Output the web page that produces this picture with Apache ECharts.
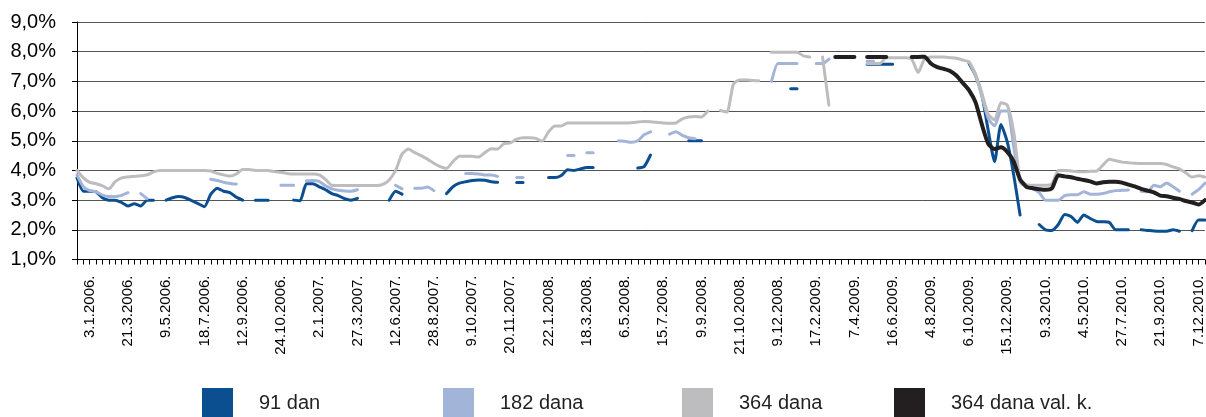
<!DOCTYPE html>
<html>
<head>
<meta charset="utf-8">
<script src="https://cdn.jsdelivr.net/npm/echarts@6/dist/echarts.min.js"></script>
<style>
  html, body { margin: 0; padding: 0; background: #fff; }
  #chart { width: 1206px; height: 417px; }
</style>
</head>
<body>
<div id="chart"></div>
<script>
// datumi aukcija koji se ispisuju na osi (svaka 6. aukcija, od indeksa 2)
const tickLabels = ['3.1.2006.', '21.3.2006.', '9.5.2006.', '18.7.2006.', '12.9.2006.', '24.10.2006.',
  '2.1.2007.', '27.3.2007.', '12.6.2007.', '28.8.2007.', '9.10.2007.', '20.11.2007.',
  '22.1.2008.', '18.3.2008.', '6.5.2008.', '15.7.2008.', '9.9.2008.', '21.10.2008.',
  '9.12.2008.', '17.2.2009.', '7.4.2009.', '16.6.2009.', '4.8.2009.', '6.10.2009.',
  '15.12.2009.', '9.3.2010.', '4.5.2010.', '27.7.2010.', '21.9.2010.', '7.12.2010.'];
const auctionCount = 178;

const seriesNames = ['91 dan', '182 dana', '364 dana', '364 dana val. k.'];

const d91 = [
  3.75, 3.3, 3.3, 3.28, 3.08, 3.0, 3.0, 2.92, 2.8, 2.88,
  2.8, 3.0, 3.0, null, 3.0, 3.08, 3.12, 3.08, 2.98, 2.88,
  2.78, 3.2, 3.4, 3.3, 3.25, 3.1, 3.0, null, 3.0, 3.0,
  3.0, null, null, null, 3.0, 2.98, 3.55, 3.55, 3.45, 3.35,
  3.22, 3.15, 3.05, 3.0, 3.06, null, null, null, null, 3.0,
  3.3, 3.2, null, null, null, null, null, null, 3.22, 3.45,
  3.57, 3.62, 3.66, 3.68, 3.67, 3.62, 3.6, null, null, 3.59,
  3.59, null, null, null, 3.76, 3.76, 3.83, 4.02, 4.0, 4.05,
  4.1, 4.1, null, null, null, null, null, null, 4.08, 4.13,
  4.52, null, null, null, null, null, 5.0, 5.0, 5.0, null,
  null, null, null, null, null, null, null, null, null, null,
  null, null, 6.75, 6.75, null, null, null, null, null, null,
  null, null, null, null, 7.58, 7.58, 7.58, 7.58, 7.58, null,
  null, null, null, null, null, null, null, null, null, null,
  7.6, 7.2, 6.55, 5.35, 4.3, 5.55, 4.95, 3.85, 2.5, null,
  null, 2.18, 2.0, 1.98, 2.18, 2.52, 2.45, 2.25, 2.5, 2.38,
  2.28, 2.27, 2.25, 2.0, 2.0, 2.0, null, 2.0, 1.98, 1.96,
  1.95, 1.95, 2.0, 1.95, null, 1.97, 2.33, 2.33
];

const d182 = [
  3.85, 3.45, 3.32, 3.28, 3.17, 3.12, 3.12, 3.16, 3.25, null,
  3.22, 3.05, null, null, null, null, null, null, null, null,
  null, 3.7, 3.66, 3.6, 3.56, 3.54, null, null, null, null,
  null, null, 3.5, 3.5, 3.5, null, 3.65, 3.66, 3.63, 3.48,
  3.38, 3.33, 3.31, 3.3, 3.35, null, null, null, null, null,
  3.5, 3.38, null, 3.4, 3.4, 3.44, 3.32, null, null, null,
  null, 3.9, 3.9, 3.88, 3.85, 3.85, 3.8, null, null, 3.76,
  3.76, null, null, null, null, null, null, 4.5, 4.5, null,
  4.6, 4.6, null, null, null, 5.0, 4.98, 4.95, 5.0, 5.2,
  5.3, null, null, 5.22, 5.3, 5.18, 5.1, 5.07, null, null,
  null, null, null, null, null, null, null, null, null, 7.0,
  7.6, 7.6, 7.6, 7.6, null, null, 7.6, 7.6, 7.75, null,
  null, null, null, null, 7.68, 7.68, null, null, null, null,
  null, null, null, null, null, null, null, null, null, null,
  7.65, 7.25, 6.5, 5.75, 5.5, 6.0, 6.0, 4.8, 3.6, 3.45,
  3.38, 3.25, 3.0, 3.0, 3.0, 3.15, 3.18, 3.18, 3.28, 3.2,
  3.2, 3.22, 3.28, 3.32, 3.33, 3.34, null, 3.3, 3.28, 3.5,
  3.45, 3.58, 3.45, 3.3, null, 3.2, 3.35, 3.57
];

const d364 = [
  4.0, 3.75, 3.6, 3.55, 3.48, 3.38, 3.62, 3.75, 3.78, 3.8,
  3.82, 3.85, 3.95, 4.0, 4.0, 4.0, 4.0, 4.0, 4.0, 4.0,
  4.0, 3.98, 3.9, 3.85, 3.81, 3.88, 4.03, 4.03, 4.0, 4.0,
  4.0, 3.96, 3.94, 3.9, 3.88, 3.88, 3.88, 3.88, 3.85, 3.7,
  3.5, 3.49, 3.49, 3.49, 3.49, 3.49, 3.49, 3.49, 3.53, 3.68,
  4.0, 4.55, 4.72, 4.6, 4.5, 4.38, 4.24, 4.13, 4.07, 4.3,
  4.48, 4.48, 4.48, 4.45, 4.6, 4.73, 4.72, 4.9, 4.93, 5.05,
  5.1, 5.1, 5.08, 4.98, 5.3, 5.5, 5.5, 5.6, 5.6, 5.6,
  5.6, 5.6, 5.6, 5.6, 5.6, 5.6, 5.6, 5.61, 5.63, 5.65,
  5.64, 5.62, 5.6, 5.59, 5.6, 5.74, 5.8, 5.82, 5.8, 6.0,
  null, 6.02, 5.97, 6.9, 7.05, 7.05, 7.03, 7.02, null, 7.98,
  7.98, 7.98, 7.98, 7.98, 7.86, 7.82, null, 7.82, 6.2, null,
  null, null, null, null, 7.6, 7.6, 7.6, 7.8, 7.8, 7.8,
  7.8, 7.75, 7.3, 7.75, 7.82, 7.82, 7.82, 7.8, 7.78, 7.72,
  7.65, 7.2, 6.6, 5.9, 5.7, 6.28, 6.2, 5.3, 3.7, 3.52,
  3.5, 3.5, 3.5, 3.55, 4.0, 4.0, 3.98, 3.96, 3.96, 3.97,
  3.98, 4.18, 4.38, 4.33, 4.28, 4.26, 4.24, 4.23, 4.23, 4.23,
  4.23, 4.2, 4.12, 4.05, 3.92, 3.78, 3.82, 3.78
];

const d364vk = [
  null, null, null, null, null, null, null, null, null, null,
  null, null, null, null, null, null, null, null, null, null,
  null, null, null, null, null, null, null, null, null, null,
  null, null, null, null, null, null, null, null, null, null,
  null, null, null, null, null, null, null, null, null, null,
  null, null, null, null, null, null, null, null, null, null,
  null, null, null, null, null, null, null, null, null, null,
  null, null, null, null, null, null, null, null, null, null,
  null, null, null, null, null, null, null, null, null, null,
  null, null, null, null, null, null, null, null, null, null,
  null, null, null, null, null, null, null, null, null, null,
  null, null, null, null, null, null, null, null, null, 7.82,
  7.82, 7.82, 7.82, null, 7.82, 7.82, 7.82, 7.82, null, null,
  null, 7.82, 7.82, 7.83, 7.6, 7.48, 7.42, 7.35, 7.2, 6.95,
  6.7, 6.3, 5.55, 4.9, 4.72, 4.78, 4.62, 4.3, 3.7, 3.45,
  3.4, 3.37, 3.35, 3.4, 3.84, 3.8, 3.77, 3.72, 3.68, 3.63,
  3.56, 3.6, 3.62, 3.62, 3.59, 3.52, 3.46, 3.38, 3.32, 3.26,
  3.15, 3.13, 3.08, 3.04, 2.97, 2.92, 2.85, 3.0
];

const colors = ['#0b4f91', '#a3b4d9', '#bdbdbf', '#231f20'];
const widths = [3, 3, 3, 4];
const legendLeft = [202, 443, 682, 894];

// kategorije: na svakom 6. mjestu datum, ostalo prazno
const categories = [];
for (let i = 0; i < auctionCount; i++) {
  categories.push((i - 2) % 6 === 0 ? tickLabels[(i - 2) / 6] : '');
}

const font = 'Liberation Sans, Arial, sans-serif';
const chart = echarts.init(document.getElementById('chart'));

chart.setOption({
  animation: false,
  grid: { left: 77, top: 22, width: 1128, height: 237.5 },
  legend: seriesNames.map((n, i) => ({
    data: [n],
    left: legendLeft[i],
    top: 388,
    padding: 0,
    icon: 'rect',
    itemWidth: 31,
    itemHeight: 30,
    textStyle: { fontSize: 20, fontFamily: font, color: '#231f20', padding: [0, 0, 0, 21] }
  })),
  xAxis: {
    type: 'category',
    data: categories,
    boundaryGap: false,
    axisLine: { lineStyle: { color: '#000', width: 1 } },
    axisTick: { interval: 0, length: 5, lineStyle: { color: '#000' } },
    axisLabel: {
      interval: (idx) => (idx - 2) % 6 === 0,
      rotate: 90,
      margin: 16,
      fontSize: 15,
      fontFamily: font,
      color: '#000'
    },
    splitLine: { show: false }
  },
  yAxis: {
    type: 'value',
    min: 1,
    max: 9,
    interval: 1,
    axisLine: { show: true, lineStyle: { color: '#000', width: 1 } },
    axisTick: { show: true, length: 5, lineStyle: { color: '#000' } },
    axisLabel: {
      margin: 21,
      fontSize: 20,
      fontFamily: font,
      color: '#000',
      formatter: (v) => v.toFixed(1).replace('.', ',') + '%'
    },
    splitLine: { lineStyle: { color: '#555', width: 1 } }
  },
  series: [d91, d182, d364, d364vk].map((d, i) => ({
    name: seriesNames[i],
    type: 'line',
    data: d,
    showSymbol: false,
    smooth: 0.2,
    connectNulls: false,
    color: colors[i],
    lineStyle: { width: widths[i], color: colors[i], cap: 'round', join: 'round' },
    z: 2 + i
  }))
});
</script>
</body>
</html>
